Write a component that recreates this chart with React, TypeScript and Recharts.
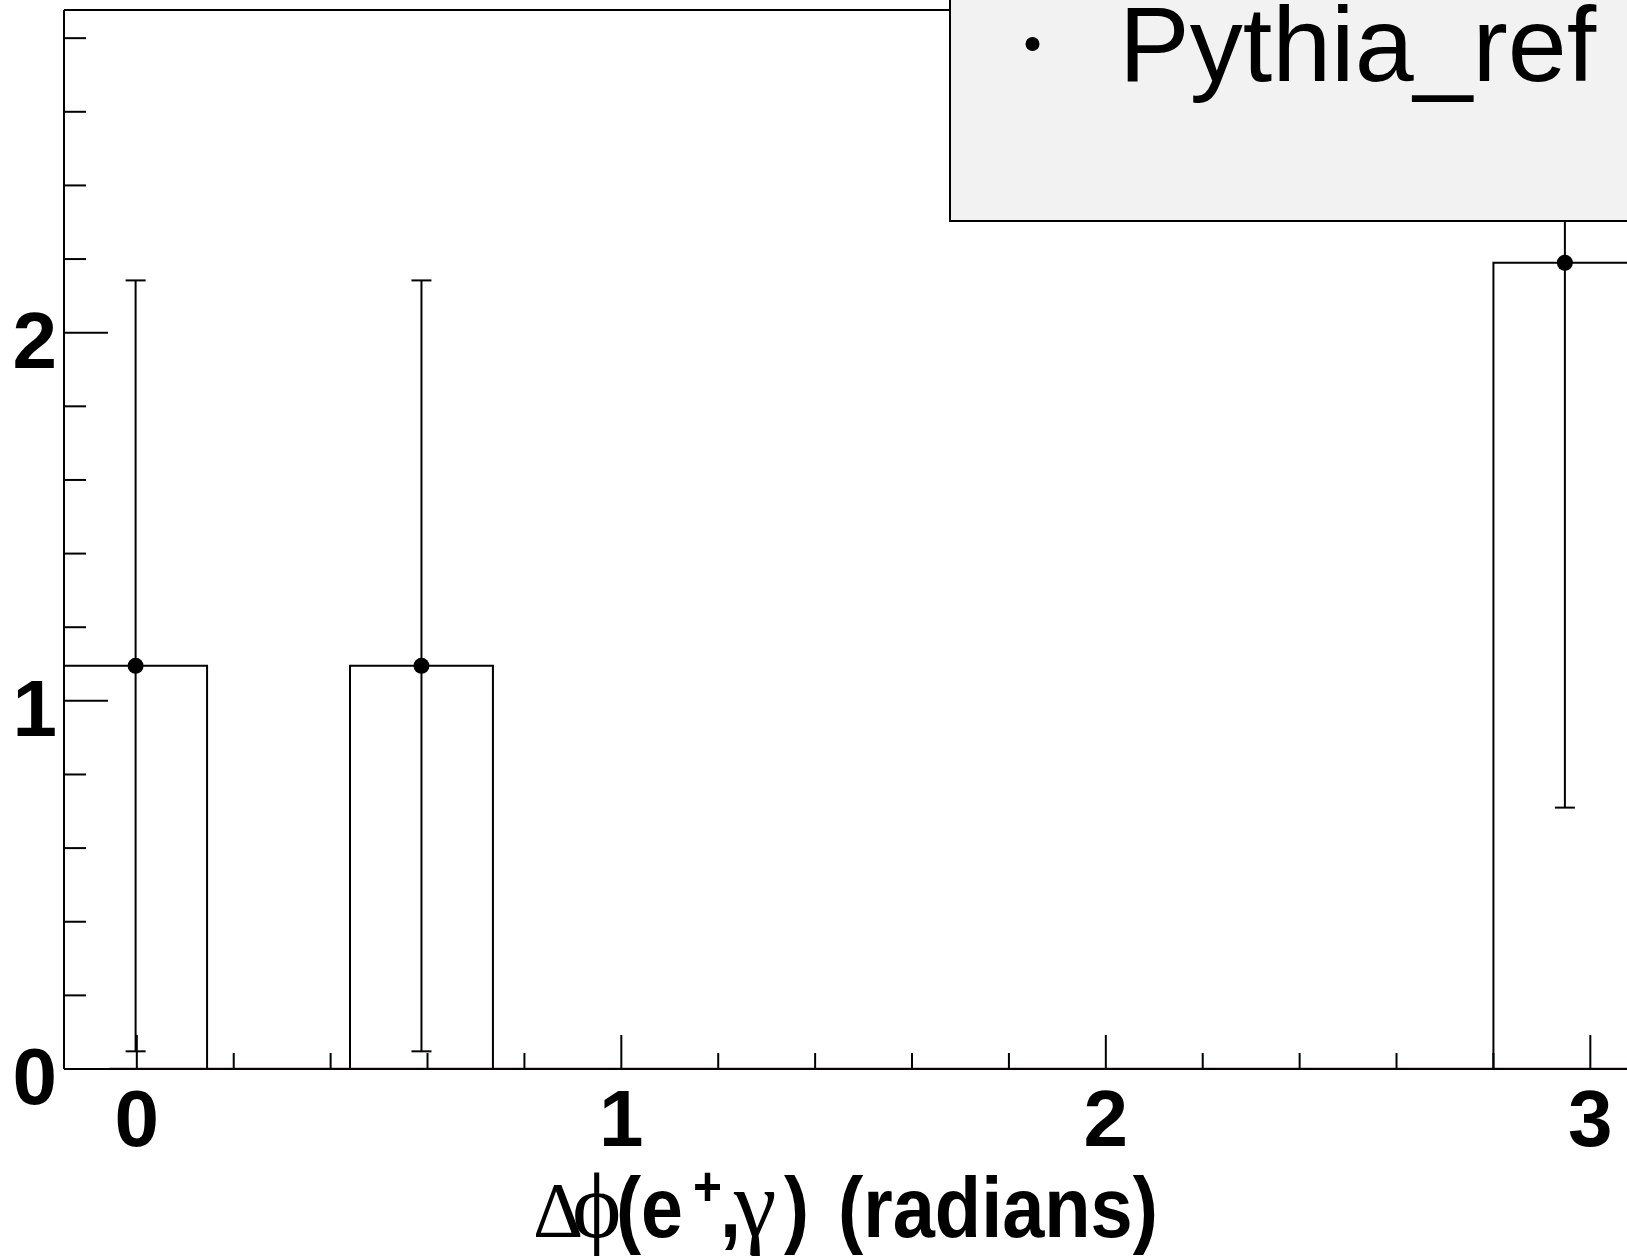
import React from 'react';
import { ComposedChart, Line, Scatter, ErrorBar, XAxis, YAxis, ReferenceLine, Legend } from 'recharts';

// Histogram binning (bin edges) and contents
const binEdges = [-0.15, 0.145, 0.44, 0.735, 1.03, 1.325, 1.62, 1.915, 2.21, 2.505, 2.8, 3.095];
const binContents = [1.095, 0, 1.095, 0, 0, 0, 0, 0, 0, 0, 2.19];

// Data points (non-empty bins) with errors
const pointX = [-0.0025, 0.5875, 2.9475];
const pointY = [1.095, 1.095, 2.19];
const pointErr = [1.047, 1.047, 1.48];

// Second (empty) histogram drawn along zero
const zeroHistX = [-0.057, 3.2];
const zeroHistY = [0, 0];

// Axes
const X_DOMAIN: [number, number] = [-0.1503, 3.0757];
const Y_DOMAIN: [number, number] = [0, 2.8765];
const xMajorTicks = [0, 1, 2, 3];
const xTickLabels = ['0', '1', '2', '3'];
const xMinorTicks = [0.2, 0.4, 0.6, 0.8, 1.2, 1.4, 1.6, 1.8, 2.2, 2.4, 2.6, 2.8];
const yMajorTicks = [0, 1, 2];
const yTickLabels = ['0', '1', '2'];
const yMinorTicks = [0.2, 0.4, 0.6, 0.8, 1.2, 1.4, 1.6, 1.8, 2.2, 2.4, 2.6, 2.8];
const legendLabel = 'Pythia_ref';

const stepData = binEdges.map((e, i) => ({ x: e, y: i < binContents.length ? binContents[i] : 0 }));
const pointData = pointX.map((x, i) => ({ x, y: pointY[i], err: pointErr[i] }));
const zeroData = zeroHistX.map((x, i) => ({ x, y: zeroHistY[i] }));

const SANS = '"Liberation Sans", Arial, Helvetica, sans-serif';
const SERIF = '"Liberation Serif", "Times New Roman", "DejaVu Serif", serif';

const XTick = (props: any) => {
  const { x, y, payload } = props;
  const idx = xMajorTicks.indexOf(payload.value);
  const major = idx >= 0;
  return (
    <g>
      <line x1={x} x2={x} y1={y} y2={y - (major ? 34 : 16)} stroke="#000" strokeWidth={2} />
      {major && (
        <text x={x} y={y + 76.5} textAnchor="middle" fontFamily={SANS} fontWeight="bold" fontSize={80} fill="#000">
          {xTickLabels[idx]}
        </text>
      )}
    </g>
  );
};

const YTick = (props: any) => {
  const { x, y, payload } = props;
  const idx = yMajorTicks.indexOf(payload.value);
  const major = idx >= 0;
  return (
    <g>
      <line x1={x} x2={x + (major ? 44 : 22)} y1={y} y2={y} stroke="#000" strokeWidth={2} />
      {major && (
        <text x={x - 7} y={y + 35} textAnchor="end" fontFamily={SANS} fontWeight="bold" fontSize={80} fill="#000">
          {yTickLabels[idx]}
        </text>
      )}
    </g>
  );
};

const AxisTitle = () => (
  <text y={1237} fill="#000" fontFamily={SANS} fontWeight="bold" fontSize={86}>
    <tspan x={533} y={1236} fontFamily={SERIF} fontWeight="normal" fontSize={78}>Δ</tspan>
    <tspan x={572} y={1237} fontFamily={SERIF} fontWeight="normal" fontSize={94}>ϕ</tspan>
    <tspan x={616} y={1237} textLength={67} lengthAdjust="spacingAndGlyphs">(e</tspan>
    <tspan x={693} y={1205} fontSize={56} textLength={29} lengthAdjust="spacingAndGlyphs">+</tspan>
    <tspan x={720} y={1237} textLength={21} lengthAdjust="spacingAndGlyphs">,</tspan>
    <tspan x={734} y={1236} fontFamily={SERIF} fontWeight="normal" fontSize={96}>γ</tspan>
    <tspan x={784} y={1237} textLength={25} lengthAdjust="spacingAndGlyphs">)</tspan>
    <tspan x={838} y={1237} textLength={320} lengthAdjust="spacingAndGlyphs">(radians)</tspan>
  </text>
);

const LegendBox = () => (
  <svg width={678} height={224} style={{ display: 'block' }}>
    <rect x={0} y={0} width={678} height={222} fill="#f2f2f2" />
    <line x1={1} x2={1} y1={0} y2={222} stroke="#000" strokeWidth={2} />
    <line x1={0} x2={678} y1={221} y2={221} stroke="#000" strokeWidth={2} />
    <circle cx={83.5} cy={44} r={7} fill="#000" />
    <text x={170} y={81} fontFamily={SANS} fontSize={106} fill="#000">{legendLabel}</text>
  </svg>
);

const Marker = (props: any) => {
  const { cx, cy } = props;
  return <circle cx={cx} cy={cy} r={8} fill="#000" />;
};

export default function App() {
  return (
    <div style={{ position: 'absolute', left: 0, top: 0, width: 1627, height: 1256, overflow: 'hidden', background: '#fff' }}>
      <ComposedChart width={1627} height={1256} margin={{ top: 10, right: 0, bottom: 0, left: 0 }}>
        <XAxis
          dataKey="x"
          type="number"
          domain={X_DOMAIN}
          allowDataOverflow
          ticks={[...xMajorTicks, ...xMinorTicks]}
          interval={0}
          tick={<XTick />}
          tickLine={false}
          tickSize={0}
          tickMargin={0}
          axisLine={{ stroke: '#000', strokeWidth: 2 }}
          height={187}
          label={<AxisTitle />}
        />
        <YAxis
          dataKey="y"
          type="number"
          domain={Y_DOMAIN}
          allowDataOverflow
          ticks={[...yMajorTicks, ...yMinorTicks]}
          interval={0}
          tick={<YTick />}
          tickLine={false}
          tickSize={0}
          tickMargin={0}
          axisLine={{ stroke: '#000', strokeWidth: 2 }}
          width={64}
        />
        <ReferenceLine y={Y_DOMAIN[1]} stroke="#000" strokeWidth={2} />
        <Line
          data={stepData}
          dataKey="y"
          type="stepAfter"
          stroke="#000"
          strokeWidth={2}
          dot={false}
          isAnimationActive={false}
          legendType="none"
        />
        <Line
          data={zeroData}
          dataKey="y"
          type="linear"
          stroke="#7a0000"
          strokeWidth={2.5}
          dot={false}
          isAnimationActive={false}
          legendType="none"
        />
        <Scatter data={pointData} dataKey="y" name={legendLabel} shape={<Marker />} isAnimationActive={false}>
          <ErrorBar dataKey="err" direction="y" width={10} stroke="#000" strokeWidth={2} />
        </Scatter>
        <Legend
          layout="horizontal"
          verticalAlign="middle"
          align="center"
          content={<LegendBox />}
          wrapperStyle={{ left: 949, top: 0, width: 678, height: 224, right: 'auto', bottom: 'auto' }}
        />
      </ComposedChart>
    </div>
  );
}
